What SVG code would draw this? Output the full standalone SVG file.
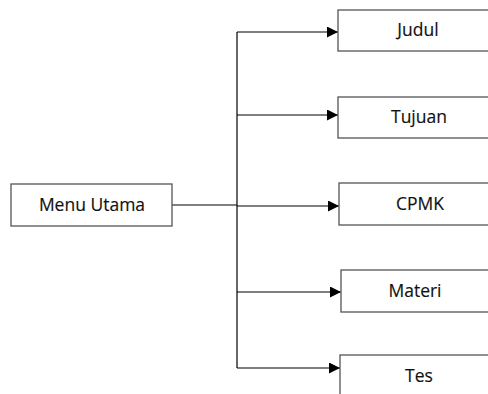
<svg xmlns="http://www.w3.org/2000/svg" width="488" height="394" viewBox="0 0 488 394">
<defs>
<marker id="arr" markerWidth="11" markerHeight="11" refX="11" refY="5.5" orient="auto" markerUnits="userSpaceOnUse">
<path d="M0,0 L11,5.5 L0,11 Z" fill="#000"/>
</marker>
<style>
.box{fill:#fff;stroke:#555;stroke-width:1.3}
.lbl{font-family:"Open Sans","Noto Sans",sans-serif;font-size:17.5px;fill:#111;text-anchor:middle;stroke:#111;stroke-width:0.15}
.ln{fill:none;stroke:#000;stroke-width:1.2}
</style>
</defs>
<rect width="488" height="394" fill="#fff"/>
<g id="connectors">
<path class="ln" d="M172,205 H237"/>
<path class="ln" d="M237,32 V368"/>
<path class="ln" d="M237,32 H338" marker-end="url(#arr)"/>
<path class="ln" d="M237,115 H338" marker-end="url(#arr)"/>
<path class="ln" d="M237,206 H339" marker-end="url(#arr)"/>
<path class="ln" d="M237,292 H341" marker-end="url(#arr)"/>
<path class="ln" d="M237,368 H340" marker-end="url(#arr)"/>
</g>
<g id="menu-utama">
<rect class="box" x="11" y="184" width="161" height="42"/>
<text class="lbl" x="92" y="211">Menu Utama</text>
</g>
<g id="judul">
<rect class="box" x="338" y="10" width="162" height="41"/>
<text class="lbl" x="418" y="36">Judul</text>
</g>
<g id="tujuan">
<rect class="box" x="338" y="97" width="162" height="41"/>
<text class="lbl" x="419" y="123">Tujuan</text>
</g>
<g id="cpmk">
<rect class="box" x="339" y="183" width="162" height="42"/>
<text class="lbl" x="420" y="210">CPMK</text>
</g>
<g id="materi">
<rect class="box" x="341" y="270" width="162" height="42"/>
<text class="lbl" x="415" y="297">Materi</text>
</g>
<g id="tes">
<rect class="box" x="340" y="355" width="162" height="45"/>
<text class="lbl" x="419" y="382">Tes</text>
</g>
</svg>
